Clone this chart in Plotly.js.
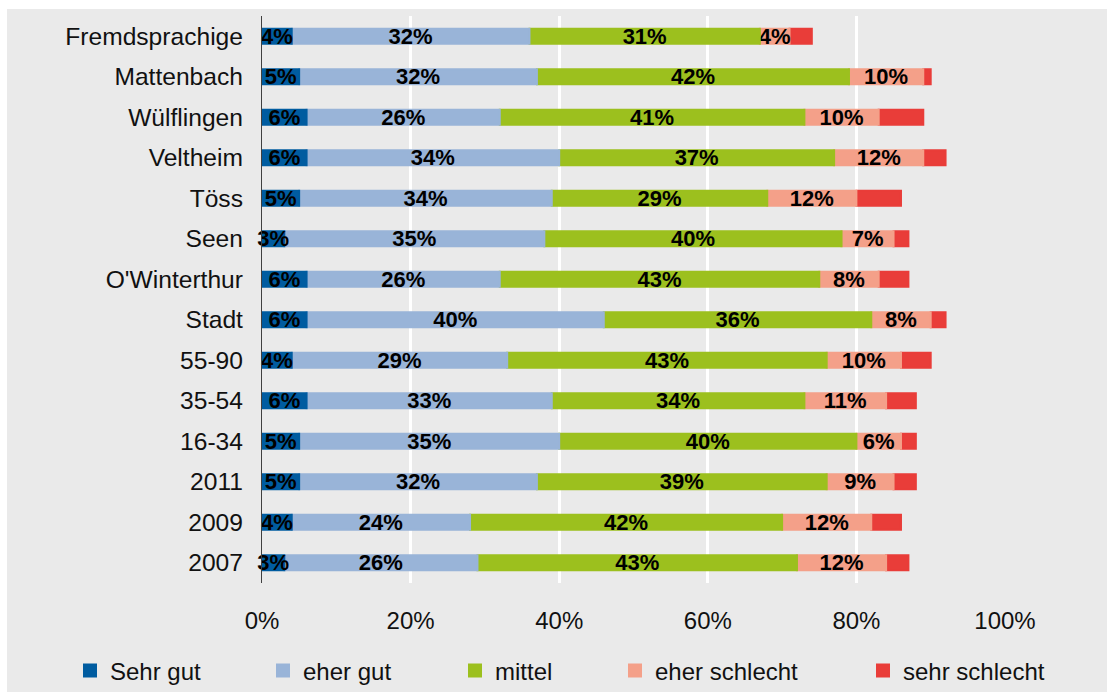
<!DOCTYPE html>
<html><head><meta charset="utf-8">
<script src="https://cdn.plot.ly/plotly-3.0.1.min.js"></script>
<style>
html,body{margin:0;padding:0;background:#fff;width:1107px;height:692px;overflow:hidden}
#chart{position:absolute;left:7px;top:9px;width:1100px;height:683px}
</style>
</head><body><div id="chart"></div>
<script>
const categories = ["Fremdsprachige","Mattenbach","Wülflingen","Veltheim","Töss","Seen","O'Winterthur","Stadt","55-90","35-54","16-34","2011","2009","2007"];
const seriesNames = ["Sehr gut","eher gut","mittel","eher schlecht","sehr schlecht"];
const sehrGut      = [4,5,6,6,5,3,6,6,4,6,5,5,4,3];
const eherGut      = [32,32,26,34,34,35,26,40,29,33,35,32,24,26];
const mittel       = [31,42,41,37,29,40,43,36,43,34,40,39,42,43];
const eherSchlecht = [4,10,10,12,12,7,8,8,10,11,6,9,12,12];
const sehrSchlecht = [3,1,6,3,6,2,4,2,4,4,2,3,4,3];
const tickValues = [0,20,40,60,80,100];
const tickLabels = ["0%","20%","40%","60%","80%","100%"];

const colors = ["#005ca0","#99b4d8","#9cc01e","#f4a089","#e93d39"];
const seriesData = [sehrGut, eherGut, mittel, eherSchlecht, sehrSchlecht];
const showLabels = [true,true,true,true,false];
const FONT = "Liberation Sans, Arial, sans-serif";

const plotLeft = 262, plotW = 743, plotBottom = 583, plotH = 567;
const legendTextX = [110, 303, 495, 655, 903];
const legendIds = ["legend","legend2","legend3","legend4","legend5"];

// stacked bases computed from the data (cumulative sums)
const bases = [];
seriesData.forEach((vals, i) => {
  bases.push(i === 0 ? vals.map(() => 0) : bases[i-1].map((b, k) => b + seriesData[i-1][k]));
});

const traces = seriesData.map((vals, i) => ({
  type: "bar",
  orientation: "h",
  name: seriesNames[i],
  y: categories,
  x: vals,
  base: bases[i],
  legend: legendIds[i],
  cliponaxis: false,
  marker: {color: colors[i], line: {color: colors[i], width: 2}},
  text: showLabels[i] ? vals.map(v => v + "%") : undefined,
  textposition: showLabels[i] ? "inside" : "none",
  insidetextanchor: "middle",
  textangle: 0,
  constraintext: "none",
  textfont: {family: FONT, size: 22, color: "#000", weight: 700},
  insidetextfont: {family: FONT, size: 22, color: "#000", weight: 700},
  hovertemplate: "%{y}: %{x}%<extra>" + seriesNames[i] + "</extra>"
})).reverse(); // draw later segments first so labels overflow on top

const layout = {
  barmode: "overlay",
  bargap: 0.63,
  paper_bgcolor: "#eaeaea",
  plot_bgcolor: "#eaeaea",
  margin: {l: 255, r: 102, t: 7, b: 109, pad: 0, autoexpand: false},
  font: {family: FONT, size: 24, color: "#111"},
  xaxis: {
    range: [0, 100],
    tickvals: tickValues,
    ticktext: tickLabels,
    showgrid: true, gridcolor: "#ffffff", gridwidth: 2.5,
    zeroline: false, showline: false, ticks: "",
    ticklabelstandoff: 21,
    tickfont: {family: FONT, size: 24, color: "#111"},
    automargin: false, fixedrange: true
  },
  yaxis: {
    type: "category",
    categoryorder: "array",
    categoryarray: categories,
    autorange: "reversed",
    showline: true, linecolor: "#404040", linewidth: 1.2,
    showgrid: false, zeroline: false, ticks: "",
    ticklabelstandoff: 13,
    tickfont: {family: FONT, size: 24.6, color: "#111"},
    automargin: false, fixedrange: true
  },
  showlegend: true
};
legendIds.forEach((id, i) => {
  layout[id] = {
    orientation: "h",
    x: (legendTextX[i] - 40 - plotLeft) / plotW,
    xanchor: "left",
    y: -(671 - plotBottom) / plotH,
    yanchor: "middle",
    bgcolor: "rgba(0,0,0,0)",
    borderwidth: 0,
    font: {family: FONT, size: 24, color: "#111"}
  };
});

Plotly.newPlot("chart", traces, layout, {displayModeBar: false});
</script>
</body></html>
